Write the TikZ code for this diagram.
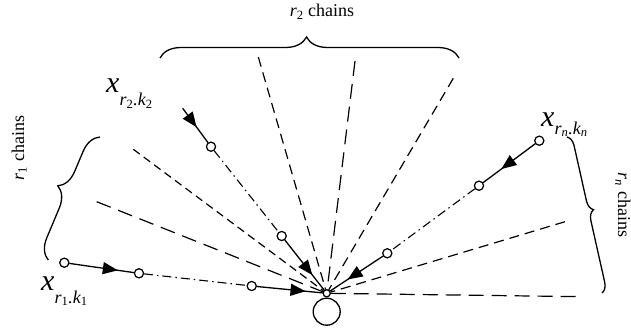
\documentclass[tikz,border=0pt]{standalone}
\usepackage{fontspec}
\setmainfont{Liberation Serif}
\usetikzlibrary{arrows.meta,decorations.markings,decorations.pathreplacing}
\newcommand\statesubfont{\fontsize{18}{18}\selectfont\itshape}

\begin{document}
\begin{tikzpicture}[x=1pt,y=-1pt,
  state/.style={circle,draw,fill=white,line width=1.1pt,minimum size=9pt,inner sep=0pt},
  link/.style={line width=1.3pt},
  flow/.style={link,postaction={decorate},
    decoration={markings,mark=at position #1 with {\arrow{Triangle[length=15pt,width=12pt]}}}},
  longdash/.style={line width=1.2pt,dash pattern=on 15pt off 8pt},
  shortdash/.style={line width=1.2pt,dash pattern=on 8pt off 5pt},
  middash/.style={line width=1.2pt,dash pattern=on 10pt off 6pt},
  skip/.style={line width=1.1pt,dash pattern=on 9pt off 4pt on 1.5pt off 4pt},
  bracket/.style 2 args={line width=1.3pt,decorate,decoration={brace,amplitude=#1,aspect=#2}},
  chainlabel/.style={inner sep=0pt,font=\fontsize{18}{18}\selectfont},
  statelabel/.style={inner sep=0pt,anchor=base west,font=\fontsize{30}{30}\selectfont\itshape}]

\useasboundingbox (0,0) rectangle (631,334);

% sink node and hub
\node[circle,draw,line width=1.3pt,minimum size=27pt,inner sep=0pt] (sink) at (326.7,311.7) {};

% free ends of the dashed chains
\coordinate (d1) at (96.7,201.7);
\coordinate (d2) at (133.3,149.3);
\coordinate (d3) at (258.3,57);
\coordinate (d4) at (355,61);
\coordinate (d5) at (453.3,78.3);
\coordinate (d6) at (565,221.7);
\coordinate (d7) at (583.3,296.7);
\coordinate (b0) at (182.7,108.3);

% states of the three drawn chains
\node[state] (a1) at (64.3,262.7) {};
\node[state] (a2) at (139,273.3) {};
\node[state] (a3) at (251.7,286) {};
\node[state] (b1) at (211,146.7) {};
\node[state] (b2) at (281.7,236) {};
\node[state] (c1) at (539.3,140.7) {};
\node[state] (c2) at (479,185.7) {};
\node[state] (c3) at (387.3,253.3) {};
\node[circle,draw,fill=white,line width=1.1pt,minimum size=7pt,inner sep=0pt] (hub) at (326.7,293.3) {};

% dashed chains
\draw[longdash] (d1) -- (hub);
\draw[shortdash] (d2) -- (hub);
\draw[middash] (d3) -- (hub);
\draw[longdash] (d4) -- (hub);
\draw[middash] (d5) -- (hub);
\draw[middash] (d6) -- (hub);
\draw[longdash] (hub) -- (d7);

% chain r1
\draw[flow=0.75] (a1) -- (a2);
\draw[skip] (a2) -- (a3);
\draw[flow=0.74] (a3) -- (hub);
% chain r2
\draw[flow=0.55] (b0) -- (b1);
\draw[skip] (b1) -- (b2);
\draw[flow=0.7] (b2) -- (hub);
% chain rn
\draw[flow=0.65] (c1) -- (c2);
\draw[skip] (c2) -- (c3);
\draw[flow=0.67] (c3) -- (hub);

% redraw nodes over line ends
\node[state] at (a1) {};
\node[state] at (a2) {};
\node[state] at (a3) {};
\node[state] at (b1) {};
\node[state] at (b2) {};
\node[state] at (c1) {};
\node[state] at (c2) {};
\node[state] at (c3) {};
\node[circle,draw,fill=white,line width=1.1pt,minimum size=7pt,inner sep=0pt] at (hub) {};

% braces
\draw[bracket={20pt}{0.54}] (48.3,260) -- (100,137);
\draw[bracket={21pt}{0.49}] (160,58) -- (459,58);
\draw[bracket={10pt}{0.48}] (567,137) -- (602,293);

% brace labels
\node[chainlabel,anchor=base,rotate=90] (l1) at (24,148) {\textit{r}\textsubscript{1} chains};
\node[chainlabel,anchor=base] (l2) at (322,17) {\textit{r}\textsubscript{2} chains};
\node[chainlabel,anchor=base,rotate=-90] (ln) at (618,205) {\textit{r}\textsubscript{\textit{n}} chains};

% state labels
\node[statelabel] (xa) at (41,290) {x\raisebox{-13pt}{\statesubfont r\textsubscript{\upshape 1}.k\textsubscript{\upshape 1}}};
\node[statelabel] (xb) at (106,93) {x\raisebox{-13pt}{\statesubfont r\textsubscript{\upshape 2}.k\textsubscript{\upshape 2}}};
\node[statelabel] (xc) at (541,127) {x\raisebox{-7pt}{\statesubfont r\textsubscript{n}.k\textsubscript{n}}};
\end{tikzpicture}
\end{document}
